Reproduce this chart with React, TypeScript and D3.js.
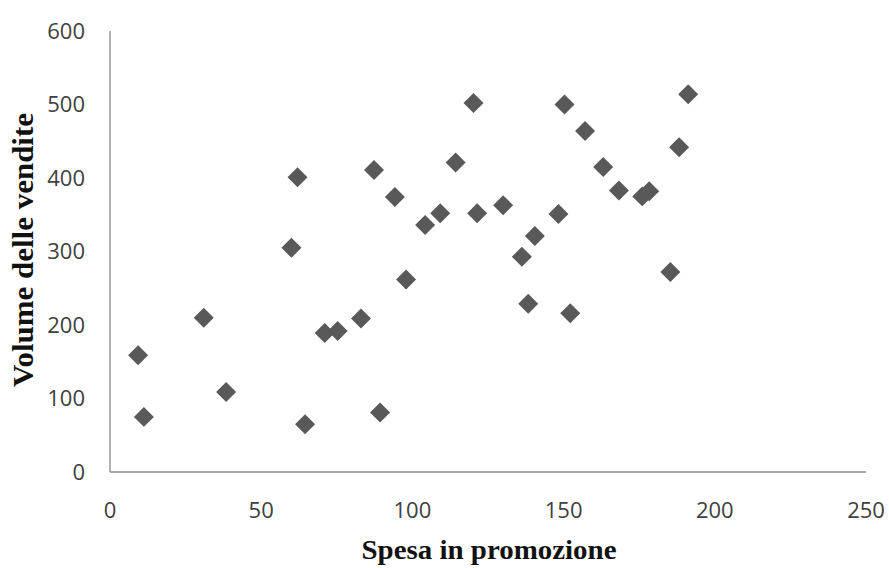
import React from "react";
import * as d3 from "d3";

const spesa = [9.3, 11.2, 31, 38.4, 60, 62, 64.5, 71, 75.3, 83, 87.3, 89.3, 94.2, 97.9, 104.2, 109.2, 114.3, 120.2, 121.4, 130, 136.2, 138.3, 140.5, 148.3, 150.3, 152.2, 157.1, 163.1, 168.3, 176, 178.3, 185.3, 188.2, 191.2];
const vendite = [159, 75, 210, 109, 305, 401, 65, 189, 192, 209, 411, 81, 374, 262, 336, 352, 421, 502, 352, 363, 293, 229, 321, 351, 500, 216, 464, 415, 383, 375, 382, 272, 442, 514];
const xTicks = [0, 50, 100, 150, 200, 250];
const yTicks = [0, 100, 200, 300, 400, 500, 600];
const xTitle = "Spesa in promozione";
const yTitle = "Volume delle vendite";

export default function App() {
  const W = 889, H = 568;
  const x = d3.scaleLinear().domain([0, 250]).range([110, 866]);
  const y = d3.scaleLinear().domain([0, 600]).range([472, 31]);
  const diamond = d3.symbol(d3.symbolSquare, 200)();
  const tickFont = "'Open Sans', 'Liberation Sans', sans-serif";
  return (
    <>
      <style>{`body{margin:0}`}</style>
      <svg width={W} height={H} style={{ display: "block", background: "#fff" }}>
        <line x1={x(0)} x2={x(0)} y1={y(600)} y2={y(0)} stroke="#8a8a8a" strokeWidth={1.3} />
        <line x1={x(0)} x2={x(250)} y1={y(0)} y2={y(0)} stroke="#8a8a8a" strokeWidth={1.3} />
        {yTicks.map((t) => (
          <text key={"y" + t} x={85} y={y(t)} dy="0.36em" textAnchor="end" fontFamily={tickFont} fontSize={22} fill="#404040">
            {t}
          </text>
        ))}
        {xTicks.map((t) => (
          <text key={"x" + t} x={x(t)} y={518} textAnchor="middle" fontFamily={tickFont} fontSize={22} fill="#404040">
            {t}
          </text>
        ))}
        {spesa.map((s, i) => (
          <path key={i} d={diamond!} transform={`translate(${x(s)},${y(vendite[i])}) rotate(45)`} fill="#595959" />
        ))}
        <text x={489} y={559} textAnchor="middle" fontFamily="'Liberation Serif', 'Times New Roman', serif" fontWeight="bold" fontSize={27} textLength={255} lengthAdjust="spacingAndGlyphs" fill="#111">
          {xTitle}
        </text>
        <text transform={`translate(33,250) rotate(-90)`} textAnchor="middle" fontFamily="'Liberation Serif', 'Times New Roman', serif" fontWeight="bold" fontSize={29} textLength={274} lengthAdjust="spacingAndGlyphs" fill="#111">
          {yTitle}
        </text>
      </svg>
    </>
  );
}
